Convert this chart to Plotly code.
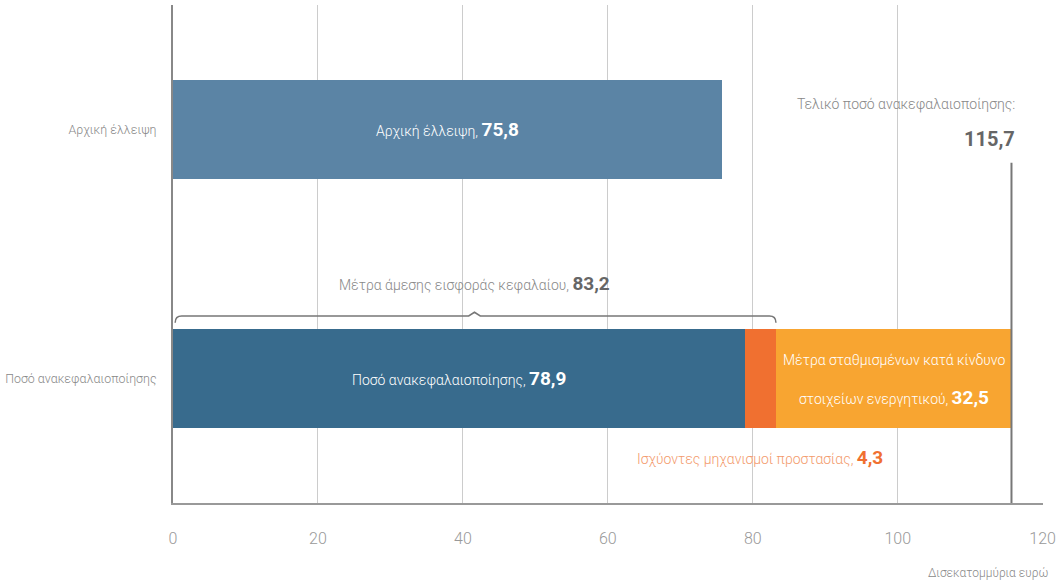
import plotly.graph_objects as go

categories = ["Ποσό ανακεφαλαιοποίησης", "Αρχική έλλειψη"]
initial_gap = 75.8
recap_amount = 78.9
existing_protection = 4.3
risk_weighted = 32.5
direct_capital = round(recap_amount + existing_protection, 1)
final_total = round(recap_amount + existing_protection + risk_weighted, 1)
x_ticks = [0, 20, 40, 60, 80, 100, 120]

FONT = "Roboto, Liberation Sans, sans-serif"
C_GAP = "#5b84a5"
C_RECAP = "#386b8d"
C_PROT = "#f07030"
C_RISK = "#f8a531"
GRAY = "#666666"

def fmt(v):
    return f"{v:.1f}".replace(".", ",")

fig = go.Figure()
for cat, val, col in [(categories[1], initial_gap, C_GAP),
                      (categories[0], recap_amount, C_RECAP),
                      (categories[0], existing_protection, C_PROT),
                      (categories[0], risk_weighted, C_RISK)]:
    fig.add_trace(go.Bar(y=[cat], x=[val], orientation="h",
                         marker=dict(color=col, line=dict(width=0)), width=0.4,
                         hoverinfo="skip"))

ann = []
big = "font-size:19px;font-weight:bold"
LIGHT = 300
SZ = 14
def A(**kw):
    kw.setdefault("showarrow", False)
    kw.setdefault("yanchor", "middle")
    ann.append(kw)

A(x=initial_gap / 2, y=categories[1], xref="x", yref="y",
  text=f"Αρχική έλλειψη, <span style='{big}'>{fmt(initial_gap)}</span>",
  font=dict(color="white", size=SZ, family=FONT, weight=LIGHT))
A(x=recap_amount / 2, y=categories[0], xref="x", yref="y",
  text=f"Ποσό ανακεφαλαιοποίησης, <span style='{big}'>{fmt(recap_amount)}</span>",
  font=dict(color="white", size=SZ, family=FONT, weight=LIGHT))
A(x=(direct_capital + final_total) / 2, y=categories[0], xref="x", yref="y", yshift=19,
  text="Μέτρα σταθμισμένων κατά κίνδυνο",
  font=dict(color="white", size=SZ, family=FONT, weight=LIGHT))
A(x=(direct_capital + final_total) / 2, y=categories[0], xref="x", yref="y", yshift=-19,
  text=f"στοιχείων ενεργητικού, <span style='{big}'>{fmt(risk_weighted)}</span>",
  font=dict(color="white", size=SZ, family=FONT, weight=LIGHT))
A(x=(recap_amount + direct_capital) / 2, y=0.092, xref="x", yref="paper",
  text=f"<span style='color:#f39a6c'>Ισχύοντες μηχανισμοί προστασίας,</span> <span style='{big};color:{C_PROT}'>{fmt(existing_protection)}</span>",
  font=dict(color=C_PROT, size=SZ, family=FONT, weight=LIGHT))
A(x=direct_capital / 2, y=0.44, xref="x", yref="paper",
  text=f"<span style='color:#888888'>Μέτρα άμεσης εισφοράς κεφαλαίου,</span> <span style='{big};color:{GRAY}'>{fmt(direct_capital)}</span>",
  font=dict(color=GRAY, size=SZ, family=FONT, weight=LIGHT))
A(x=final_total + 0.7, y=0.80, xref="x", yref="paper", xanchor="right",
  text="Τελικό ποσό ανακεφαλαιοποίησης:",
  font=dict(color="#888888", size=SZ, family=FONT, weight=LIGHT))
A(x=final_total + 0.7, y=0.73, xref="x", yref="paper", xanchor="right",
  text=f"{fmt(final_total)}",
  font=dict(color=GRAY, size=20, family=FONT, weight="bold"))
A(x=1.008, y=-0.14, xref="paper", yref="paper", xanchor="right",
  text="Δισεκατομμύρια ευρώ",
  font=dict(color="#888888", size=12, family=FONT, weight=LIGHT))

# bracket over direct capital measures
mid = direct_capital / 2
yb, yd, yp = 0.3755, 0.362, 0.383
bracket = (f"M 0.3,{yd} Q 0.3,{yb} 1.2,{yb} L {mid-0.8},{yb} L {mid},{yp} L {mid+0.8},{yb} "
           f"L {direct_capital-0.9},{yb} Q {direct_capital},{yb} {direct_capital},{yd}")
shapes = [
    dict(type="path", path=bracket, xref="x", yref="paper",
         line=dict(color="#777777", width=1.5)),
    dict(type="line", x0=final_total, x1=final_total, y0=0, y1=0.683,
         xref="x", yref="paper", line=dict(color="#777777", width=2)),
]

fig.update_layout(
    barmode="stack", bargap=0,
    width=1056, height=587,
    margin=dict(l=173, r=13, t=5, b=84),
    paper_bgcolor="white", plot_bgcolor="white",
    showlegend=False,
    font=dict(family=FONT, color="#888888"),
    annotations=ann, shapes=shapes,
    xaxis=dict(range=[0, 120.05], tickvals=x_ticks, ticktext=[str(t) for t in x_ticks],
               showgrid=True, gridcolor="#cccccc", gridwidth=1,
               showline=True, linecolor="#999999", linewidth=2,
               ticks="", ticklabelstandoff=20, zeroline=False, automargin=False,
               ticklabeloverflow="allow",
               tickfont=dict(size=16, color="#999999", family=FONT, weight=LIGHT)),
    yaxis=dict(type="category", categoryorder="array", categoryarray=categories,
               range=[-0.5, 1.5], showgrid=False, automargin=False,
               showline=True, linecolor="#888888", linewidth=2,
               ticks="", ticklabelstandoff=12,
               tickfont=dict(size=12.4, color="#888888", family=FONT, weight=LIGHT)),
)

fig.write_html("out.html", config={"displayModeBar": False},
               post_script="document.body.style.margin='0';document.body.style.overflow='hidden';")
